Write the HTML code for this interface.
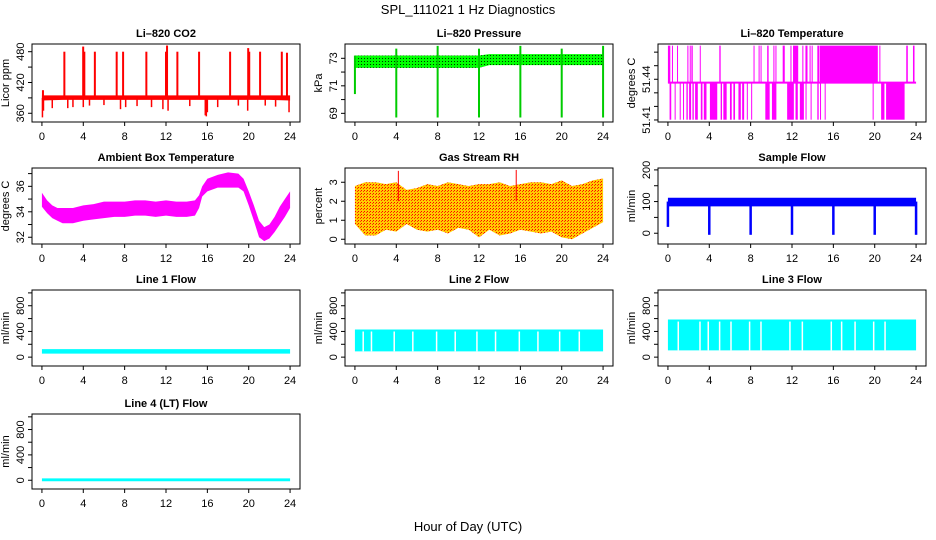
<!DOCTYPE html>
<html><head><meta charset="utf-8"><title>SPL_111021 1 Hz Diagnostics</title>
<style>
html,body{margin:0;padding:0;background:#fff;}
svg{display:block;font-family:"Liberation Sans",Arial,sans-serif;}
</style></head>
<body>
<svg id="fig" width="936" height="540" viewBox="0 0 936 540" xmlns="http://www.w3.org/2000/svg">
<defs>
<pattern id="dotsBlack" width="3" height="3" patternUnits="userSpaceOnUse"><rect width="3" height="3" fill="#00ff00"/><rect x="1" y="1" width="1" height="1" fill="#003300"/></pattern>
<pattern id="dotsRed" width="3" height="3" patternUnits="userSpaceOnUse"><rect width="3" height="3" fill="#ffcc00"/><rect x="1" y="1" width="1" height="1" fill="#ff0000"/><rect x="0" y="2" width="1" height="1" fill="#ff3300"/></pattern>
</defs>
<text x="468" y="14" text-anchor="middle" font-size="13">SPL_111021  1 Hz Diagnostics</text>
<text x="468" y="531" text-anchor="middle" font-size="13">Hour of Day (UTC)</text>
</svg>
<script>
// ---- shared x axis ----
const xTicks = [0,4,8,12,16,20,24];
// ---- CO2 ----
const co2Hours = [0,2,4,6,8,10,12,14,16,18,20,22,24];
const co2Lo = [385,386,386,386,386,386,386,386,386,386,386,386,385];
const co2Hi = [395,395,395,395,395,395,395,395,395,395,395,395,395];
const co2SpikeT = [0.1,2.17,3.99,4.1,5.12,7.23,7.85,10.1,12.0,12.1,13.1,15.2,18.2,19.95,20.05,21.1,23.2,23.7];
const co2SpikeV = [405,480,490,480,480,480,480,480,480,492,480,480,480,487,480,480,480,478];
const co2DipT = [0.05,0.15,1.0,2.5,3.0,4.0,4.6,6.0,7.6,8.1,9.2,10.6,11.7,12.2,14.3,15.8,15.9,16.0,17.0,19.0,19.9,21.6,22.6,23.9];
const co2DipV = [352,365,370,370,372,372,375,376,368,372,374,372,368,365,374,356,354,362,372,375,365,375,373,362];
// ---- Pressure ----
const presHours = [0,4,8,12,13,16,20,24];
const presLo = [72.3,72.3,72.3,72.3,72.5,72.5,72.5,72.5];
const presHi = [73.2,73.2,73.2,73.2,73.3,73.3,73.3,73.3];
const presEventT = [0,4,8,12,16,20,24];
const presEventMin = [70.4,68.7,68.7,68.7,68.7,68.7,68.7];
const presEventMax = [73.2,73.7,73.9,73.7,73.9,73.7,73.9];
// ---- Li-820 Temperature ----
const tempLevels = [51.4102,51.4375,51.4648];
const tempUpStart = [0,0.39,0.88,1.88,2.11,2.27,3.08,4.97,8.28,8.77,8.96,9.6,10.2,10.4,11.1,11.85,12.1,13.0,13.3,13.7,13.9,14.45,14.7,20.45,23.05,23.7];
const tempUpEnd   = [0.23,0.45,0.94,1.98,2.18,2.4,3.12,5.1,8.34,8.86,9.03,9.74,10.3,10.45,11.3,11.95,12.6,13.1,13.5,13.8,14.0,14.65,20.3,20.5,23.2,23.85];
const tempDnStart = [0.16,0.65,1.14,1.46,1.79,2.05,2.37,2.63,3.18,3.47,4.06,5.1,5.36,6.0,6.33,6.82,7.18,7.63,8.05,9.42,10.06,11.53,12.34,12.76,13.31,13.8,14.45,14.71,15.16,19.8,20.62,21.1];
const tempDnEnd   = [0.32,0.71,1.2,1.53,1.92,2.24,2.5,2.89,3.34,3.73,4.77,5.23,5.68,6.17,6.49,7.05,7.37,7.69,8.12,9.84,10.49,12.18,12.56,13.15,13.38,13.86,14.58,14.77,15.23,19.87,20.94,22.89];
// ---- Ambient Box Temperature ----
const ambHours = [0,0.5,1,1.5,2,3,4,5,6,7,8,9,10,11,12,13,14,14.8,15.2,15.5,16,17,18,19,19.5,20,20.5,21,21.5,22,22.5,23,23.5,24];
const ambLo = [34.4,33.9,33.5,33.3,33.1,33.1,33.3,33.4,33.5,33.6,33.6,33.7,33.7,33.6,33.7,33.6,33.6,33.7,34.3,35.2,35.6,35.9,35.9,35.9,35.6,34.5,33.3,32.0,31.7,31.9,32.4,33.0,33.6,34.3];
const ambHi = [35.5,34.9,34.5,34.3,34.3,34.3,34.5,34.6,34.8,34.8,34.8,34.9,34.9,34.8,34.9,34.8,34.8,34.9,35.3,36.0,36.6,36.9,37.1,37.0,36.6,35.6,34.5,33.3,32.8,33.0,33.6,34.4,35.0,35.6];
// ---- Gas Stream RH ----
const rhHours = [0,1,2,3,4,5,6,7,8,9,10,11,12,13,14,15,16,17,18,19,20,21,22,23,24];
const rhLo = [0.8,0.2,0.2,0.5,0.4,0.8,0.5,0.4,0.5,0.3,0.6,0.5,0.1,0.5,0.2,0.3,0.5,0.4,0.3,0.4,0.1,0.0,0.3,0.6,0.9];
const rhHi = [2.8,3.0,3.0,2.9,3.0,2.6,2.7,2.9,2.8,3.0,2.9,2.8,2.9,2.9,3.0,2.8,2.9,3.0,3.0,2.9,3.1,2.8,2.9,3.1,3.2];
const rhSpikeT = [4.2,15.6];
const rhSpikeV = [3.6,3.65];
// ---- Sample Flow ----
const sfHours = [0,24];
const sfLo = [85,85];
const sfHi = [112,112];
const sfEventT = [0,4,8,12,16,20,24];
const sfEventMin = [20,-5,-5,-5,-5,-5,-5];
// ---- Line flows ----
const l1Hours = [0,24]; const l1Lo = [55,55]; const l1Hi = [125,125];
const l2Hours = [0,24]; const l2Lo = [90,90]; const l2Hi = [430,430];
const l2Gaps = [0.8,1.6,3.8,5.6,7.9,9.7,11.8,13.6,15.9,17.7,19.8,21.7];
const l3Hours = [0,24]; const l3Lo = [105,105]; const l3Hi = [585,585];
const l3Gaps = [1.0,3.1,3.9,5.0,6.1,7.9,9.0,11.8,13.0,15.8,16.8,18.1,19.9,21.0];
const l4Hours = [0,24]; const l4Lo = [-15,-15]; const l4Hi = [30,30];

const NS = "http://www.w3.org/2000/svg";
const svg = document.getElementById('fig');
function mk(tag, attrs, parent){ const e=document.createElementNS(NS,tag); for(const k in attrs) e.setAttribute(k,attrs[k]); (parent||svg).appendChild(e); return e; }

function panel(o){
  const W=268, L=o.left, T=o.top, B=o.bottom;
  const g = mk('g',{});
  
  
  const sx = h => L + (h + 0.96) / 25.92 * W;
  const sy = v => B - (v - o.ylo) / (o.yhi - o.ylo) * (B - T);
  const plot = mk('g',{},g);
  const title = mk('text',{x:L+W/2,y:T-7,'text-anchor':'middle','font-size':11,'font-weight':'bold'},g);
  title.textContent = o.title;
  
  
  const yl = mk('text',{x:0,y:0,'text-anchor':'middle','font-size':11,transform:`translate(${L-23},${(T+B)/2}) rotate(-90)`},g);
  yl.textContent = o.ylab;
  
  
  o.draw(plot, sx, sy);
  mk('rect',{x:L,y:T,width:W,height:B-T,fill:'none',stroke:'#000','stroke-width':1},g);
  xTicks.forEach(t=>{
    mk('line',{x1:sx(t),x2:sx(t),y1:B,y2:B+4,stroke:'#000'},g);
    const tx = mk('text',{x:sx(t),y:B+18,'text-anchor':'middle','font-size':11},g);
    tx.textContent = t;
    
    
  });
  o.yticks.forEach(v=>{
    mk('line',{x1:L,x2:L-4,y1:sy(v),y2:sy(v),stroke:'#000'},g);
  });
  o.ylabels.forEach(v=>{
    const tx = mk('text',{x:0,y:0,'text-anchor':'middle','font-size':11,transform:`translate(${L-8},${sy(v)}) rotate(-90)`},g);
    tx.textContent = v;
    
    
  });
}
function band(g,sx,sy,hs,lo,hi,fill){
  let pts=[]; hs.forEach((h,i)=>pts.push(sx(h)+','+sy(hi[i])));
  for(let i=hs.length-1;i>=0;i--) pts.push(sx(hs[i])+','+sy(lo[i]));
  const p = mk('polygon',{points:pts.join(' '),fill:fill},g);
  
  
}
function vline(g,sx,sy,t,v1,v2,col,w){
  const l = mk('line',{x1:sx(t),x2:sx(t),y1:sy(v1),y2:sy(v2),stroke:col,'stroke-width':w||1.5},g);
  
  
}

panel({name:'panel-co2',left:32,top:44,bottom:122,ylo:343,yhi:495,title:'Li\u2013820 CO2',ylab:'Licor ppm',
  yticks:[360,390,420,450,480],ylabels:[360,420,480],
  draw:(g,sx,sy)=>{
    band(g,sx,sy,co2Hours,co2Lo,co2Hi,'#ff0000');
    co2SpikeT.forEach((t,i)=>vline(g,sx,sy,t,390,co2SpikeV[i],'#ff0000',2));
    co2DipT.forEach((t,i)=>vline(g,sx,sy,t,390,co2DipV[i],'#ff0000',1.5));
  }});
panel({name:'panel-pressure',left:345,top:44,bottom:122,ylo:68.37,yhi:74.04,title:'Li\u2013820 Pressure',ylab:'kPa',
  yticks:[69,70,71,72,73],ylabels:[69,71,73],
  draw:(g,sx,sy)=>{
    band(g,sx,sy,presHours,presLo,presHi,'url(#dotsBlack)');
    presEventT.forEach((t,i)=>vline(g,sx,sy,t,presEventMin[i],presEventMax[i],'#00cc00',2));
  }});
panel({name:'panel-li820-temperature',left:658,top:44,bottom:122,ylo:51.4085,yhi:51.466,title:'Li\u2013820 Temperature',ylab:'degrees C',
  yticks:[51.41,51.42,51.43,51.44,51.45,51.46],ylabels:['51.41','51.44'],
  draw:(g,sx,sy)=>{
    const mid=tempLevels[1], top=tempLevels[2], bot=tempLevels[0];
    tempUpStart.forEach((s,i)=>{ const r=mk('rect',{x:sx(s),y:sy(top),width:Math.max(1,sx(tempUpEnd[i])-sx(s)),height:sy(mid)-sy(top),fill:'#ff00ff'},g);  });
    tempDnStart.forEach((s,i)=>{ const r=mk('rect',{x:sx(s),y:sy(mid),width:Math.max(1,sx(tempDnEnd[i])-sx(s)),height:sy(bot)-sy(mid),fill:'#ff00ff'},g);  });
    mk('line',{x1:sx(0),x2:sx(24),y1:sy(mid),y2:sy(mid),stroke:'#ff00ff','stroke-width':2},g);
  }});
panel({name:'panel-ambient-temperature',left:32,top:168,bottom:244,ylo:31.47,yhi:37.44,title:'Ambient Box Temperature',ylab:'degrees C',
  yticks:[32,33,34,35,36,37],ylabels:[32,34,36],
  draw:(g,sx,sy)=>{ band(g,sx,sy,ambHours,ambLo,ambHi,'#ff00ff'); }});
panel({name:'panel-gas-rh',left:345,top:168,bottom:244,ylo:-0.25,yhi:3.75,title:'Gas Stream RH',ylab:'percent',
  yticks:[0,1,2,3],ylabels:[0,1,2,3],
  draw:(g,sx,sy)=>{
    band(g,sx,sy,rhHours,rhLo,rhHi,'url(#dotsRed)');
    rhSpikeT.forEach((t,i)=>vline(g,sx,sy,t,2,rhSpikeV[i],'#ff0000',1));
  }});
panel({name:'panel-sample-flow',left:658,top:168,bottom:244,ylo:-34,yhi:206,title:'Sample Flow',ylab:'ml/min',
  yticks:[0,50,100,150,200],ylabels:[0,100,200],
  draw:(g,sx,sy)=>{
    band(g,sx,sy,sfHours,sfLo,sfHi,'#0000ff');
    sfEventT.forEach((t,i)=>vline(g,sx,sy,t,sfEventMin[i],100,'#0000ff',2.5));
  }});
function flowPanel(name,left,top,bottom,title,hs,lo,hi,gaps){
  panel({name:name,left:left,top:top,bottom:bottom,ylo:-138,yhi:1045,title:title,ylab:'ml/min',
    yticks:[0,200,400,600,800,1000],ylabels:[0,400,800],
    draw:(g,sx,sy)=>{
      band(g,sx,sy,hs,lo,hi,'#00ffff');
      (gaps||[]).forEach(t=>{ const l=mk('line',{x1:sx(t),x2:sx(t),y1:sy(hi[0])+2,y2:sy(lo[0]),stroke:'#fff','stroke-width':1.5},g);  });
    }});
}
flowPanel('panel-line1-flow',32,290,366,'Line 1 Flow',l1Hours,l1Lo,l1Hi,[]);
flowPanel('panel-line2-flow',345,290,366,'Line 2 Flow',l2Hours,l2Lo,l2Hi,l2Gaps);
flowPanel('panel-line3-flow',658,290,366,'Line 3 Flow',l3Hours,l3Lo,l3Hi,l3Gaps);
flowPanel('panel-line4-flow',32,414,489,'Line 4 (LT) Flow',l4Hours,l4Lo,l4Hi,[]);
</script>
</body></html>
